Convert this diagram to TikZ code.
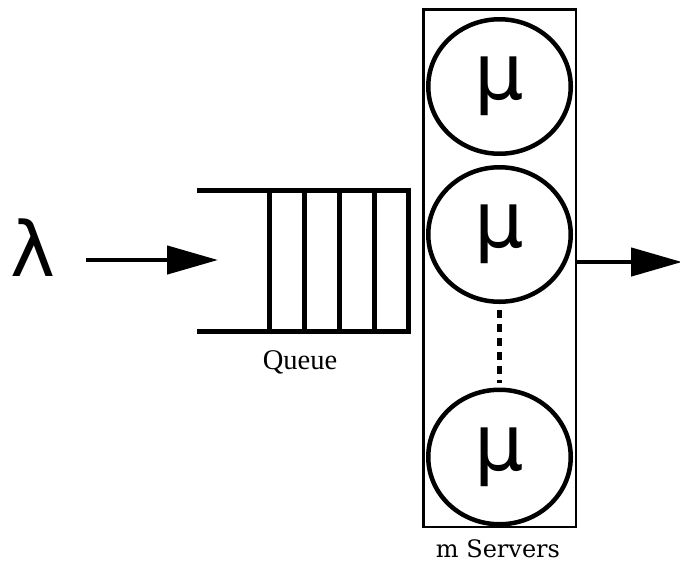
\documentclass[tikz,border=0pt]{standalone}
\usepackage{fontspec}
\usetikzlibrary{arrows.meta,shapes.geometric}
\newfontfamily\greekfont{DejaVu Sans}
\newfontfamily\queuefont{Liberation Serif}
\newfontfamily\labelfont{DejaVu Serif}
\begin{document}
\begin{tikzpicture}[x=1pt,y=-1pt,
  thick line/.style={line width=5pt},
  flow/.style={line width=4.5pt,-{Triangle[length=51pt,width=28pt]}},
  server/.style={ellipse,draw,line width=4.5pt,minimum width=142.5pt,minimum height=134.5pt,
    inner sep=0pt,font=\greekfont\fontsize{78}{80}\selectfont},
  rate/.style={inner sep=0pt,font=\greekfont\fontsize{76}{78}\selectfont},
  caption/.style={inner sep=0pt}]
  \useasboundingbox (0,0) rectangle (680,568);

  % arrival rate
  \node[rate] (lam) at (33,248) {λ};
  \coordinate (inStart) at (86,260);
  \coordinate (inEnd) at (218,260);
  \draw[flow] (inStart) -- (inEnd);

  % waiting line
  \draw[thick line] (197,190) -- (408,190) (197,331) -- (408,331);
  \foreach \x in {269,304,339,374,408}
    \draw[thick line] (\x,187.5) -- (\x,333.5);
  \node[caption,font=\queuefont\fontsize{28.5}{30}\selectfont] (qlabel) at (300,362) {Queue};

  % server bank
  \node[draw,line width=2.5pt,minimum width=152.5pt,minimum height=517.5pt,inner sep=0pt]
    (bank) at (499.5,268) {};
  \node[server] (s1) at (499.5,86.5) {μ};
  \node[server] (s2) at (499.5,234.5) {μ};
  \node[server] (s3) at (499.5,457) {μ};
  \draw[line width=4.5pt,dash pattern=on 8pt off 6pt,shorten <=6pt,shorten >=5pt] (s2.south) -- (s3.north);
  \node[caption,font=\labelfont\fontsize{24}{26}\selectfont] (slabel) at (498,549) {m Servers};

  % departures
  \coordinate (outStart) at (577,262);
  \coordinate (outEnd) at (682,262);
  \draw[flow] (outStart) -- (outEnd);
\end{tikzpicture}
\end{document}
